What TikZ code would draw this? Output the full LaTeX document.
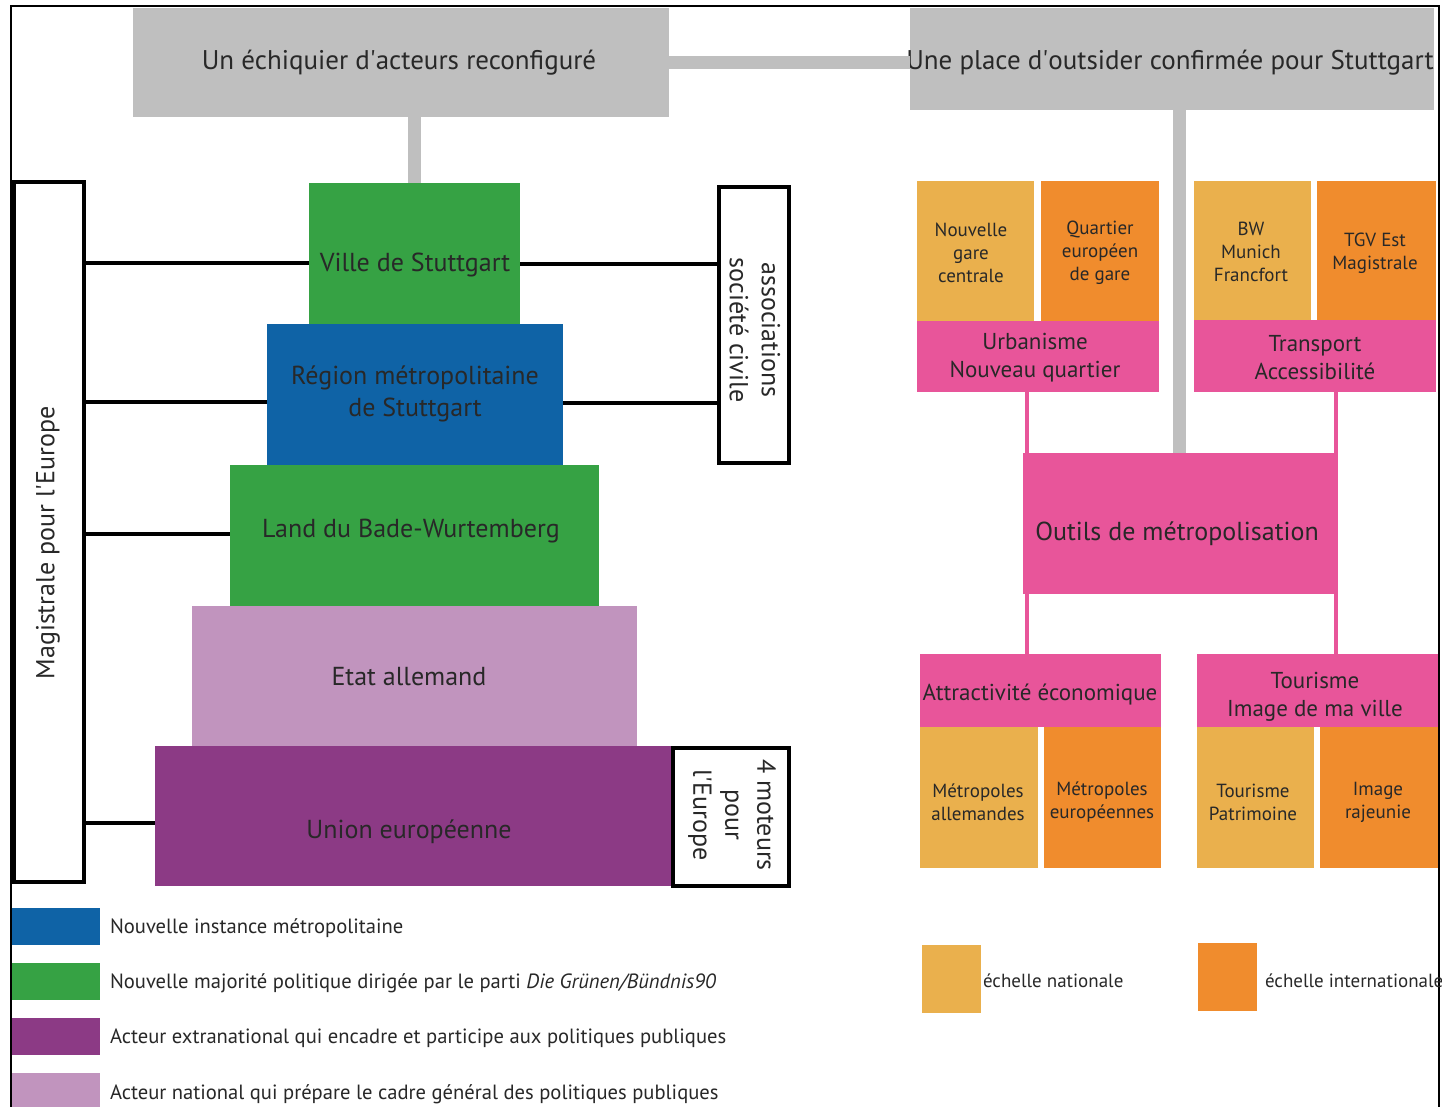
\documentclass[tikz,border=0pt]{standalone}
\usepackage{fontspec}
\setmainfont{PT Sans}
\newcommand{\apos}{\textquotesingle}
\definecolor{cgray}{RGB}{191,191,191}
\definecolor{cgreen}{RGB}{54,162,68}
\definecolor{cblue}{RGB}{15,99,166}
\definecolor{clpurple}{RGB}{193,148,190}
\definecolor{cpurple}{RGB}{140,58,133}
\definecolor{clorange}{RGB}{234,176,77}
\definecolor{corange}{RGB}{240,140,45}
\definecolor{cpink}{RGB}{232,85,154}
\definecolor{ctxt}{RGB}{40,40,40}
\begin{document}
\begin{tikzpicture}[x=1pt,y=-1pt,
  box/.style={inner sep=0pt,outer sep=0pt,anchor=north west,draw=none},
  framebox/.style={inner sep=0pt,outer sep=0pt,anchor=north west,draw=black,line width=4pt,fill=white},
  lbl/.style={inner sep=0pt,outer sep=0pt,align=center,text=ctxt,yshift=-2.5pt},
  rlbl/.style={inner sep=0pt,outer sep=0pt,align=center,text=ctxt},
  hfont/.style={font=\fontsize{27}{32}\selectfont},
  pfont/.style={font=\fontsize{26}{32}\selectfont},
  mfont/.style={font=\fontsize{23}{28}\selectfont},
  sfont/.style={font=\fontsize{19}{23}\selectfont},
  lfont/.style={font=\fontsize{20.6}{24}\selectfont},
  grayline/.style={draw=cgray,line width=13pt},
  blkline/.style={draw=black,line width=4pt},
  pinkline/.style={draw=cpink,line width=4pt}]
\useasboundingbox (0,0) rectangle (1442,1107);
\fill[white] (0,0) rectangle (1442,1107);
% outer frame
\draw[line width=2pt] (11,1107) -- (11,6) -- (1439,6) -- (1439,1107);

% headings
\node[box,fill=cgray,minimum width=536pt,minimum height=109pt] (h1) at (133,8) {};
\node[lbl,hfont] (h1t) at (399,60) {Un échiquier d\apos acteurs reconfiguré};
\node[box,fill=cgray,minimum width=524pt,minimum height=102pt] (h2) at (910,8) {};
\node[lbl,hfont] (h2t) at (1170,60) {Une place d\apos outsider confirmée pour Stuttgart};

% pyramid
\node[box,fill=cgreen,minimum width=211pt,minimum height=141pt] (ville) at (309,183) {};
\node[box,fill=cblue,minimum width=296pt,minimum height=141pt] (reg) at (267,324) {};
\node[box,fill=cgreen,minimum width=369pt,minimum height=141pt] (land) at (230,465) {};
\node[box,fill=clpurple,minimum width=445pt,minimum height=140pt] (etat) at (192,606) {};
\node[box,fill=cpurple,minimum width=517pt,minimum height=140pt] (ue) at (155,746) {};
\node[lbl,pfont] (villet) at (415,263) {Ville de Stuttgart};
\node[lbl,pfont] (regt) at (415,391) {Région métropolitaine\\de Stuttgart};
\node[lbl,pfont] (landt) at (411,529) {Land du Bade-Wurtemberg};
\node[lbl,pfont] (etatt) at (409,674) {Etat allemand};
\node[lbl,pfont] (uet) at (409,829) {Union européenne};

% framed side boxes
\node[framebox,minimum width=70pt,minimum height=700pt] (mag) at (14,182) {};
\node[rlbl,pfont,rotate=90] (magt) at (48,543) {Magistrale pour l\apos Europe};
\node[framebox,minimum width=70pt,minimum height=276pt] (asso) at (719,187) {};
\node[rlbl,pfont,rotate=-90] (assot) at (755,330) {associations\\société civile};
\node[framebox,minimum width=116pt,minimum height=138pt] (moteurs) at (673,748) {};
\node[rlbl,pfont,rotate=-90] (moteurst) at (732,815) {4 moteurs\\pour\\l\apos Europe};

% black connectors
\draw[blkline] (mag.east |- 0,263) -- (ville.west |- 0,263);
\draw[blkline] (mag.east |- 0,402) -- (reg.west |- 0,402);
\draw[blkline] (mag.east |- 0,534) -- (land.west |- 0,534);
\draw[blkline] (mag.east |- 0,823) -- (ue.west |- 0,823);
\draw[blkline] (ville.east |- 0,264) -- (asso.west |- 0,264);
\draw[blkline] (reg.east |- 0,403) -- (asso.west |- 0,403);

% right side: top groups
\node[box,fill=clorange,minimum width=117pt,minimum height=140pt] (gare) at (917,181) {};
\node[box,fill=corange,minimum width=118pt,minimum height=140pt] (quart) at (1041,181) {};
\node[box,fill=cpink,minimum width=242pt,minimum height=71pt] (urb) at (917,321) {};
\node[box,fill=clorange,minimum width=117pt,minimum height=139pt] (bw) at (1194,181) {};
\node[box,fill=corange,minimum width=119pt,minimum height=139pt] (tgv) at (1317,181) {};
\node[box,fill=cpink,minimum width=242pt,minimum height=72pt] (trans) at (1194,320) {};
\node[lbl,sfont] (garet) at (971,250) {Nouvelle\\gare\\centrale};
\node[lbl,sfont] (quartt) at (1100,250) {Quartier\\européen\\de gare};
\node[lbl,sfont] (bwt) at (1251,249) {BW\\Munich\\Francfort};
\node[lbl,sfont] (tgvt) at (1375,251) {TGV Est\\Magistrale};
\node[lbl,mfont] (urbt) at (1035,355) {Urbanisme\\Nouveau quartier};
\node[lbl,mfont] (transt) at (1315,355) {Transport\\Accessibilité};

% central tool
\node[box,fill=cpink,minimum width=315pt,minimum height=141pt] (outils) at (1023,453) {};
\node[lbl,pfont] (outilst) at (1177,531) {Outils de métropolisation};

% bottom groups
\node[box,fill=cpink,minimum width=241pt,minimum height=73pt] (attr) at (920,654) {};
\node[box,fill=cpink,minimum width=241pt,minimum height=73pt] (tour) at (1197,654) {};
\node[box,fill=clorange,minimum width=118pt,minimum height=141pt] (mall) at (920,727) {};
\node[box,fill=corange,minimum width=117pt,minimum height=141pt] (meur) at (1044,727) {};
\node[box,fill=clorange,minimum width=117pt,minimum height=141pt] (tpat) at (1197,727) {};
\node[box,fill=corange,minimum width=118pt,minimum height=141pt] (imraj) at (1320,727) {};
\node[lbl,mfont] (attrt) at (1040,692) {Attractivité économique};
\node[lbl,mfont] (tourt) at (1315,694) {Tourisme\\Image de ma ville};
\node[lbl,sfont] (mallt) at (978,800) {Métropoles\\allemandes};
\node[lbl,sfont] (meurt) at (1102,800) {Métropoles\\européennes};
\node[lbl,sfont] (tpatt) at (1253,800) {Tourisme\\Patrimoine};
\node[lbl,sfont] (imrajt) at (1378,800) {Image\\rajeunie};

% gray connectors
\draw[grayline] (h1.east) -- (h1.east -| h2.west);
\draw[grayline] (ville.north |- 0,183) -- (ville.north |- h1.south);
\draw[grayline] (outils.north -| 1179,0) -- (h2.south -| 1179,0);

% pink connectors
\draw[pinkline] (urb.south -| 1027,0) -- (outils.north -| 1027,0);
\draw[pinkline] (trans.south -| 1336,0) -- (outils.north -| 1336,0);
\draw[pinkline] (outils.south -| 1027,0) -- (attr.north -| 1027,0);
\draw[pinkline] (outils.south -| 1336,0) -- (tour.north -| 1336,0);

% legend left
\node[box,fill=cblue,minimum width=88pt,minimum height=37pt] (lg1) at (12,908) {};
\node[box,fill=cgreen,minimum width=88pt,minimum height=37pt] (lg2) at (12,963) {};
\node[box,fill=cpurple,minimum width=88pt,minimum height=37pt] (lg3) at (12,1018) {};
\node[box,fill=clpurple,minimum width=88pt,minimum height=37pt] (lg4) at (12,1073) {};
\node[lbl,lfont,anchor=west] (lg1t) at (110,926) {Nouvelle instance métropolitaine};
\node[lbl,lfont,anchor=west] (lg2t) at (110,981) {Nouvelle majorité politique dirigée par le parti \textit{Die Grünen/Bündnis90}};
\node[lbl,lfont,anchor=west] (lg3t) at (110,1036) {Acteur extranational qui encadre et participe aux politiques publiques};
\node[lbl,lfont,anchor=west] (lg4t) at (110,1092) {Acteur national qui prépare le cadre général des politiques publiques};

% legend right
\node[box,fill=clorange,minimum width=59pt,minimum height=68pt] (lgn) at (922,945) {};
\node[lbl,sfont,anchor=west] (lgnt) at (983,978) {échelle nationale};
\node[box,fill=corange,minimum width=59pt,minimum height=68pt] (lgi) at (1198,943) {};
\node[lbl,sfont,anchor=west] (lgit) at (1265,978) {échelle internationale};
\end{tikzpicture}
\end{document}
